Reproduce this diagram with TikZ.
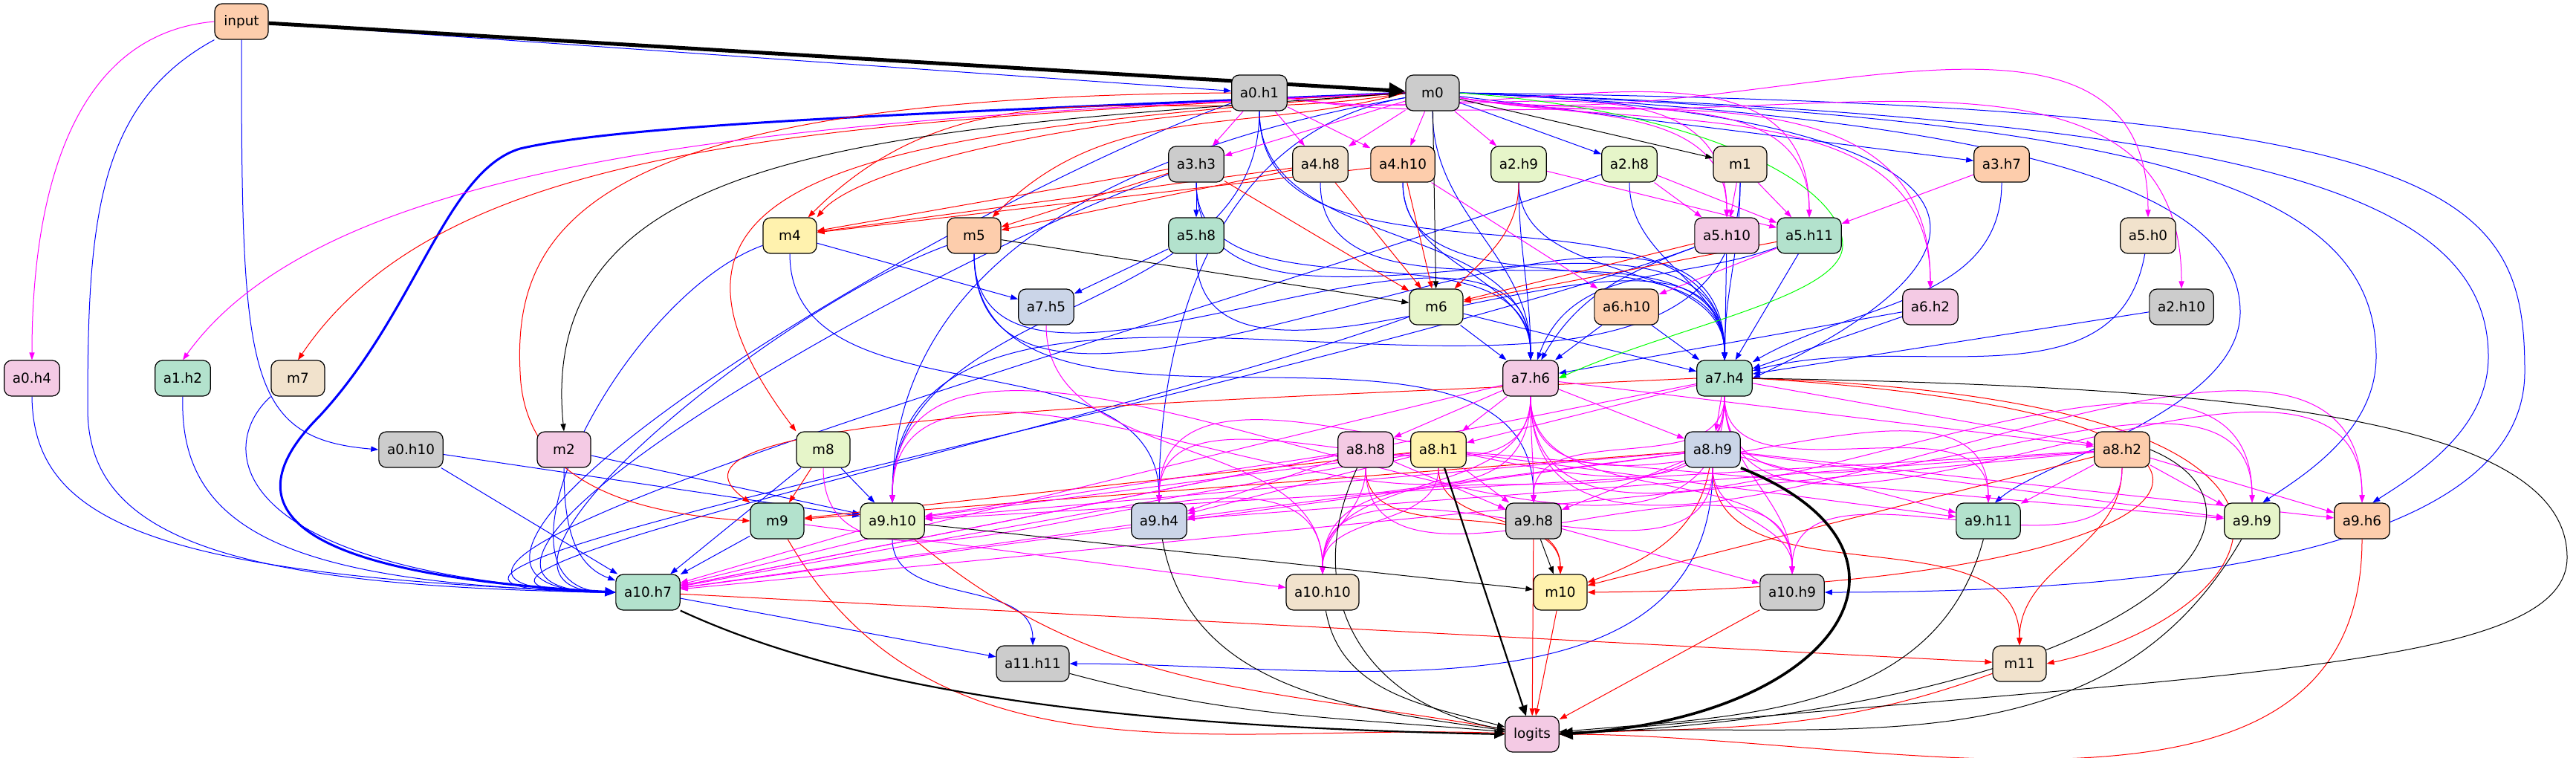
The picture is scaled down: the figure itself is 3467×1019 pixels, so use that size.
\documentclass[tikz,border=0pt]{standalone}
\usepackage{fontspec}
\setmainfont{DejaVu Sans}
\usetikzlibrary{arrows.meta}
\definecolor{Cgray}{HTML}{CCCCCC}
\definecolor{Cbeige}{HTML}{F1E2CC}
\definecolor{Cpeach}{HTML}{FDCDAC}
\definecolor{Clg}{HTML}{E6F5C9}
\definecolor{Cgreen}{HTML}{B3E2CD}
\definecolor{Cyellow}{HTML}{FFF2AE}
\definecolor{Cpink}{HTML}{F4CAE4}
\definecolor{Cblue}{HTML}{CBD5E8}
\definecolor{Eblue}{RGB}{0,0,255}
\definecolor{Ered}{RGB}{255,0,0}
\definecolor{Emag}{RGB}{255,0,255}
\definecolor{Egreen}{RGB}{0,255,0}
\definecolor{Eblack}{RGB}{0,0,0}
\pgfdeclarelayer{bg}\pgfsetlayers{bg,main}
\tikzset{
 nd/.style={draw=black,line width=0.6pt,rounded corners=5pt,minimum width=36pt,minimum height=24pt,inner xsep=5.6pt,inner ysep=0pt,font=\fontsize{9.2pt}{11pt}\selectfont},
 tip/.style={-{Triangle[length=5pt,width=3.6pt]}},
 eb/.style={tip,line width=0.5pt,draw=Eblue},
 er/.style={tip,line width=0.5pt,draw=Ered},
 em/.style={tip,line width=0.5pt,draw=Emag},
 ek/.style={tip,line width=0.5pt,draw=Eblack},
 eg/.style={tip,line width=0.5pt,draw=Egreen},
 cv/.style={out=-90,in=90},
}
\begin{document}
\begin{tikzpicture}[x=0.5pt,y=0.5pt]
\useasboundingbox (0,0) rectangle (3467,-1019);
% nodes
\node[nd,fill=Cpeach] (input) at (325,-29) {input};
\node[nd,fill=Cgray] (a0h1) at (1695,-125) {a0.h1};
\node[nd,fill=Cgray] (m0) at (1928,-125) {m0};
\node[nd,fill=Cgray] (a3h3) at (1610,-221) {a3.h3};
\node[nd,fill=Cbeige] (a4h8) at (1777,-221) {a4.h8};
\node[nd,fill=Cpeach] (a4h10) at (1888,-221) {a4.h10};
\node[nd,fill=Clg] (a2h9) at (2044,-221) {a2.h9};
\node[nd,fill=Clg] (a2h8) at (2193,-221) {a2.h8};
\node[nd,fill=Cbeige] (m1) at (2342,-221) {m1};
\node[nd,fill=Cpeach] (a3h7) at (2694,-221) {a3.h7};
\node[nd,fill=Cyellow] (m4) at (1063,-317) {m4};
\node[nd,fill=Cpeach] (m5) at (1311,-317) {m5};
\node[nd,fill=Cgreen] (a5h8) at (1610,-317) {a5.h8};
\node[nd,fill=Cpink] (a5h10) at (2324,-317) {a5.h10};
\node[nd,fill=Cgreen] (a5h11) at (2435,-317) {a5.h11};
\node[nd,fill=Cbeige] (a5h0) at (2891,-317) {a5.h0};
\node[nd,fill=Cblue] (a7h5) at (1408,-413) {a7.h5};
\node[nd,fill=Clg] (m6) at (1933,-413) {m6};
\node[nd,fill=Cpeach] (a6h10) at (2189,-413) {a6.h10};
\node[nd,fill=Cpink] (a6h2) at (2598,-413) {a6.h2};
\node[nd,fill=Cgray] (a2h10) at (2936,-413) {a2.h10};
\node[nd,fill=Cpink] (a0h4) at (43,-509) {a0.h4};
\node[nd,fill=Cgreen] (a1h2) at (246,-509) {a1.h2};
\node[nd,fill=Cbeige] (m7) at (401,-509) {m7};
\node[nd,fill=Cpink] (a7h6) at (2060,-509) {a7.h6};
\node[nd,fill=Cgreen] (a7h4) at (2321,-509) {a7.h4};
\node[nd,fill=Cgray] (a0h10) at (553,-605) {a0.h10};
\node[nd,fill=Cpink] (m2) at (759,-605) {m2};
\node[nd,fill=Clg] (m8) at (1108,-605) {m8};
\node[nd,fill=Cpink] (a8h8) at (1838,-605) {a8.h8};
\node[nd,fill=Cyellow] (a8h1) at (1936,-605) {a8.h1};
\node[nd,fill=Cblue] (a8h9) at (2305,-605) {a8.h9};
\node[nd,fill=Cpeach] (a8h2) at (2856,-605) {a8.h2};
\node[nd,fill=Cgreen] (m9) at (1046,-701) {m9};
\node[nd,fill=Clg] (a9h10) at (1201,-701) {a9.h10};
\node[nd,fill=Cblue] (a9h4) at (1560,-701) {a9.h4};
\node[nd,fill=Cgray] (a9h8) at (2064,-701) {a9.h8};
\node[nd,fill=Cgreen] (a9h11) at (2676,-701) {a9.h11};
\node[nd,fill=Clg] (a9h9) at (3031,-701) {a9.h9};
\node[nd,fill=Cpeach] (a9h6) at (3179,-701) {a9.h6};
\node[nd,fill=Cgreen] (a10h7) at (872,-797) {a10.h7};
\node[nd,fill=Cbeige] (a10h10) at (1780,-797) {a10.h10};
\node[nd,fill=Cyellow] (m10) at (2100,-797) {m10};
\node[nd,fill=Cgray] (a10h9) at (2412,-797) {a10.h9};
\node[nd,fill=Cgray] (a11h11) at (1390,-893) {a11.h11};
\node[nd,fill=Cbeige] (m11) at (2718,-893) {m11};
\node[nd,fill=Cpink] (logits) at (2062,-988) {logits};

\begin{pgfonlayer}{bg}
\fill[white] (0,0) rectangle (3467,-1019);
% ---------------- blue ----------------
\foreach \a/\b in {input/a0h1, m0/a2h8, m0/a3h7, a3h3/a5h8, m4/a7h5, a5h8/a7h5, m6/a7h6, m6/a7h4, a6h10/a7h6, a6h10/a7h4, a6h2/a7h6, a6h2/a7h4, a2h10/a7h4, a5h10/a7h4, a5h11/a7h4, m8/a9h10, a0h10/a9h10, m2/a9h10, m9/a10h7, m8/a10h7, a0h10/a10h7, a10h7/a11h11}
  \draw[eb] (\a) -- (\b);
\foreach \a/\b in {a0h1/a7h6, a0h1/a7h4, a3h3/a7h6, a3h3/a7h4, a4h8/a7h4, a4h10/a7h6, a4h10/a7h4, a2h9/a7h6, a2h9/a7h4, a2h8/a7h4, m1/a7h4, m5/a7h6, m5/a7h4, a5h8/a7h4, m0/a7h6, a0h1/a9h10, m1/a9h10, m4/a9h4, m5/a9h8, a9h10/a11h11}
  \draw[eb] (\a) to[cv] (\b);
\foreach \a/\b in {m0/a9h10, m0/a9h4}
  \draw[eb] (\a) to[out=190,in=90] (\b);
\foreach \a/\b in {m4/a10h7, m5/a10h7, a3h3/a10h7, a0h1/a10h7, m6/a10h7, a5h10/a10h7, a2h8/a10h7}
  \draw[eb] (\a) to[out=200,in=180] (\b);
\draw[eb] (a5h10) to[out=200,in=60] (a7h6);
\draw[eb] (a5h11) to[out=200,in=70] (a7h6);
\draw[eb] (a5h0) to[out=-100,in=15] (a7h4);
\draw[eb] (a3h7) to[out=-90,in=30] (a7h4);
\draw[eb] (m0.east) .. controls (2600,-150) and (2800,-300) .. (a7h4.east);
\draw[eb] (m2) to[out=-90,in=160] (a10h7);
\draw[eb] (a8h9) to[out=-90,in=0] (a11h11);
\draw[eb] (input.south west) .. controls (130,-140) and (118,-300) .. (118,-550) .. controls (118,-720) and (300,-790) .. (a10h7.west);
\draw[eb] (input.south) .. controls (325,-500) and (330,-590) .. (a0h10.west);
\draw[eb] (a0h4.south) .. controls (45,-700) and (200,-775) .. (a10h7.west);
\draw[eb] (a1h2.south) .. controls (240,-720) and (400,-785) .. (a10h7.west);
\draw[eb] (m7.south west) .. controls (290,-600) and (300,-770) .. (a10h7.west);
\draw[eb,line width=1.5pt,-{Triangle[length=7pt,width=6pt]}] (m0.west) .. controls (1300,-150) and (850,-165) .. (700,-200) .. controls (600,-230) and (560,-420) .. (430,-560) .. controls (330,-660) and (330,-770) .. (a10h7.west);
\draw[eb] (m0.east) .. controls (2700,-160) and (3015,-250) .. (3015,-420) .. controls (3015,-550) and (2750,-620) .. (a9h11.70);
\draw[eb] (m0.east) .. controls (2900,-160) and (3198,-250) .. (3198,-480) .. controls (3198,-580) and (3100,-640) .. (a9h9.60);
\draw[eb] (m0.east) .. controls (3000,-160) and (3349,-250) .. (3349,-480) .. controls (3349,-580) and (3250,-640) .. (a9h6.60);
\draw[eb] (m0.east) .. controls (3300,-140) and (3398,-250) .. (3398,-500) .. controls (3398,-720) and (3000,-797) .. (a10h9.east);
% ---------------- red ----------------
\foreach \a/\b in {a3h3/m4, a3h3/m5, a4h8/m4, a4h8/m5, a4h10/m4, a5h10/m6, a5h11/m6, a4h8/m6, a4h10/m6, a3h3/m6, m8/m9, a8h9/m9, a8h1/m9, a10h7/m11, a9h8/logits, m10/logits, a10h9/logits, a8h2/m10}
  \draw[er] (\a) -- (\b);
\foreach \a/\b in {a8h8/m10, a8h1/m10, a8h9/m11, a8h2/m11}
  \draw[er] (\a) to[cv] (\b);
\draw[er] (a8h9) to[out=-100,in=20] (m10);
\draw[er] (a2h9) to[out=-90,in=45] (m6);
\draw[er] (a0h1.south west) .. controls (1400,-170) and (1150,-230) .. (m4.north east);
\draw[er] (m0.west) to[out=190,in=45] (m4);
\draw[er] (m0.west) to[out=195,in=45] (m5);
\draw[er] (m0.west) .. controls (1100,-165) and (600,-190) .. (m7.north);
\draw[er] (m0.west) .. controls (1200,-180) and (800,-220) .. (m8.north west);
\draw[er] (a0h1.west) .. controls (800,-130) and (690,-300) .. (700,-500) .. controls (705,-650) and (850,-690) .. (m9.west);
\draw[er] (a7h4.west) .. controls (1500,-545) and (850,-560) .. (m9.north west);
\draw[er] (a7h4.east) .. controls (3200,-560) and (3000,-790) .. (m10.east);
\draw[er] (a7h4.east) .. controls (3250,-540) and (3050,-830) .. (m11.east);
\draw[er] (m9) to[out=-60,in=178] (logits);
\draw[er] (a9h10) to[out=-40,in=170] (logits);
\draw[er] (a9h6) to[out=-90,in=0] (logits);
\draw[er] (m11) to[out=-160,in=2] (logits);
% ---------------- magenta ----------------
\foreach \a/\b in {a0h1/a3h3, m0/a3h3, a0h1/a4h8, m0/a4h8, a0h1/a4h10, m0/a4h10, m0/a2h9, m1/a5h10, m1/a5h11, a2h8/a5h10, a2h8/a5h11, a2h9/a5h11, a3h7/a5h11, a5h11/a6h10, a4h10/a6h10,
 a7h6/a8h8, a7h6/a8h1, a7h6/a8h9, a7h6/a8h2, a7h4/a8h1, a7h4/a8h9, a7h4/a8h2,
 a8h8/a9h10, a8h8/a9h4, a8h8/a9h8,
 a8h1/a9h10, a8h1/a9h4, a8h1/a9h8, a8h1/a9h11, a8h1/a9h9,
 a8h9/a9h10, a8h9/a9h4, a8h9/a9h8, a8h9/a9h11, a8h9/a9h9, a8h9/a9h6,
 a8h2/a9h10, a8h2/a9h4, a8h2/a9h11, a8h2/a9h9, a8h2/a9h6,
 a9h10/a10h7, a9h4/a10h7, a9h8/a10h9, m9/a10h10,
 a7h6/a10h7, a7h4/a10h7, a8h8/a10h7, a8h1/a10h7, a8h9/a10h7, a8h2/a10h7}
  \draw[em] (\a) -- (\b);
\foreach \a/\b in {m0/a5h10, m0/a5h11, a0h1/a5h10, a0h1/a5h11, m0/a5h0, m0/a2h10, m0/a6h2, a0h1/a6h2}
  \draw[em] (\a) to[out=-10,in=90] (\b);
\foreach \a/\b in {a7h5/a10h10, m8/a10h10,
 a7h6/a9h10, a7h6/a9h4, a7h6/a9h8, a7h6/a9h11, a7h6/a9h9, a7h6/a9h6, a7h6/a10h10, a7h6/a10h9,
 a7h4/a9h10, a7h4/a9h4, a7h4/a9h8, a7h4/a9h11, a7h4/a9h9, a7h4/a9h6, a7h4/a10h9, a7h4/a10h10,
 a8h8/a10h10, a8h8/a10h9, a8h1/a10h10, a8h9/a10h10, a8h9/a10h9, a8h2/a10h9}
  \draw[em] (\a) to[cv] (\b);
\draw[em] (input.west) to[out=185,in=90] (a0h4.north);
\draw[em] (m0.west) .. controls (1100,-160) and (450,-200) .. (a1h2.north);
% ---------------- black ----------------
\draw[ek,line width=2.5pt,-{Triangle[length=11pt,width=10pt]}] (input) -- (m0);
\foreach \a/\b in {m0/m1, m0/m6, m5/m6, a9h10/m10, a9h8/m10}
  \draw[ek] (\a) -- (\b);
\draw[ek] (m0.west) .. controls (1200,-175) and (720,-190) .. (m2.north);
\draw[ek,line width=1.1pt,-{Triangle[length=7pt,width=6pt]}] (a10h7.south east) .. controls (1150,-930) and (1500,-978) .. (logits.west);
\draw[ek] (a11h11) to[out=-15,in=175] (logits);
\draw[ek] (a8h8) to[out=-115,in=170,looseness=1.2] (logits);
\draw[ek] (a10h10) to[out=-80,in=165] (logits);
\draw[ek] (a9h4) to[out=-80,in=172] (logits);
\draw[ek,line width=1.1pt,-{Triangle[length=7pt,width=6pt]}] (a8h1) -- (logits);
\draw[ek,line width=1.8pt,-{Triangle[length=9pt,width=8pt]}] (a8h9.south east) .. controls (2620,-740) and (2480,-965) .. (logits.east);
\draw[ek] (a9h11) to[out=-105,in=5] (logits);
\draw[ek] (a9h9) to[out=-120,in=3] (logits);
\draw[ek] (a8h2.east) .. controls (3100,-690) and (2900,-950) .. (logits.east);
\draw[ek] (a7h4.east) .. controls (3000,-520) and (3455,-560) .. (3455,-750) .. controls (3455,-900) and (3000,-905) .. (logits.east);
% ---------------- green ----------------
\draw[eg] (m0.east) .. controls (2300,-150) and (2480,-250) .. (2480,-330) .. controls (2480,-400) and (2250,-440) .. (a7h6.east);
\end{pgfonlayer}
\end{tikzpicture}
\end{document}
